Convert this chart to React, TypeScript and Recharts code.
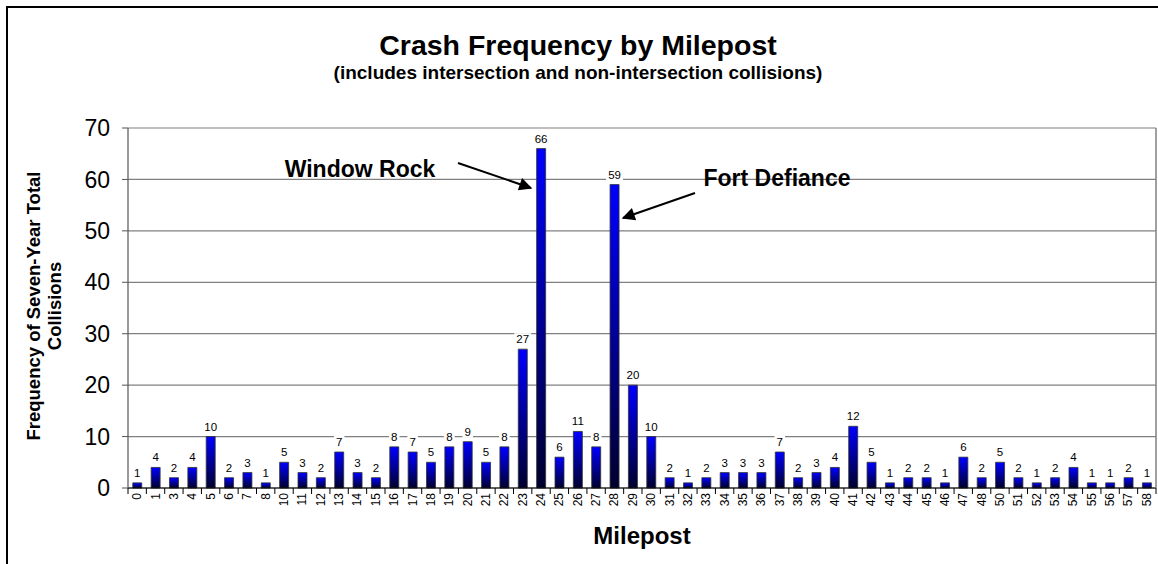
import React from 'react';
import { BarChart, Bar, XAxis, YAxis, CartesianGrid, LabelList } from 'recharts';

const mileposts = ['0','1','3','4','5','6','7','8','10','11','12','13','14','15','16','17','18','19','20','21','22','23','24','25','26','27','28','29','30','31','32','33','34','35','36','37','38','39','40','41','42','43','44','45','46','47','48','50','51','52','53','54','55','56','57','58'];
const collisions = [1,4,2,4,10,2,3,1,5,3,2,7,3,2,8,7,5,8,9,5,8,27,66,6,11,8,59,20,10,2,1,2,3,3,3,7,2,3,4,12,5,1,2,2,1,6,2,5,2,1,2,4,1,1,2,1];
const yTicks = [0,10,20,30,40,50,60,70];

const data = mileposts.map((m, i) => ({ milepost: m, value: collisions[i] }));

const W = 1158;
const H = 564;
const M_TOP = 128;
const M_RIGHT = 2;
const Y_W = 128;
const X_H = 76;
const PLOT_W = W - Y_W - M_RIGHT;
const BAND = PLOT_W / mileposts.length;
const FONT = '"Liberation Sans", Arial, sans-serif';

const XTick = (props: any) => {
  const { x, y, payload, index } = props;
  const ty = y + 5;
  return (
    <g>
      <line x1={x + BAND / 2} y1={y} x2={x + BAND / 2} y2={y + 6} stroke="#000" strokeWidth={1} />
      {index === 0 && <line x1={x - BAND / 2} y1={y} x2={x - BAND / 2} y2={y + 6} stroke="#000" strokeWidth={1} />}
      <text
        x={x}
        y={ty}
        transform={`rotate(-90, ${x}, ${ty})`}
        textAnchor="end"
        dominantBaseline="central"
        fontSize={12}
        fontFamily={FONT}
        fill="#000"
      >
        {payload.value}
      </text>
    </g>
  );
};

const ValueLabel = (props: any) => {
  const { x, y, width, value } = props;
  const cx = x + width / 2;
  const cy = y - 10;
  const tw = String(value).length * 6.5 + 4;
  return (
    <g>
      <rect x={cx - tw / 2} y={cy - 6} width={tw} height={12} fill="#fff" />
      <text x={cx} y={cy} textAnchor="middle" dominantBaseline="central" fontSize={11.5} fontFamily={FONT} fill="#000">
        {value}
      </text>
    </g>
  );
};

export default function App() {
  return (
    <div style={{ position: 'absolute', left: 0, top: 0, width: W, height: H, background: '#fff', overflow: 'hidden' }}>
      <svg width={0} height={0} style={{ position: 'absolute' }}>
        <defs>
          <linearGradient id="barGrad" x1="0" y1="0" x2="0" y2="1">
            <stop offset="0%" stopColor="#0000FF" />
            <stop offset="100%" stopColor="#00002E" />
          </linearGradient>
        </defs>
      </svg>
      <BarChart
        width={W}
        height={H}
        data={data}
        margin={{ top: M_TOP, right: M_RIGHT, left: 0, bottom: 0 }}
        barCategoryGap="26%"
      >
        <CartesianGrid vertical={false} stroke="#808080" strokeWidth={1.2} />
        <XAxis
          dataKey="milepost"
          interval={0}
          height={X_H}
          tickLine={false}
          tickSize={0}
          tickMargin={0}
          tick={<XTick />}
          axisLine={{ stroke: '#000', strokeWidth: 1.2 }}
          label={{ value: 'Milepost', position: 'insideBottom', offset: 20, fontSize: 24, fontWeight: 'bold', fontFamily: FONT, fill: '#000' }}
        />
        <YAxis
          width={Y_W}
          domain={[0, 70]}
          ticks={yTicks}
          interval={0}
          tickSize={6}
          tickMargin={12}
          tickLine={{ stroke: '#555' }}
          axisLine={{ stroke: '#555', strokeWidth: 1.2 }}
          tick={{ fontSize: 23, fontFamily: FONT, fill: '#000' }}
        />
        <Bar dataKey="value" fill="url(#barGrad)" stroke="#333" strokeWidth={0.8} isAnimationActive={false}>
          <LabelList dataKey="value" content={<ValueLabel />} />
        </Bar>
      </BarChart>
      <svg
        width={W}
        height={H}
        style={{ position: 'absolute', left: 0, top: 0, pointerEvents: 'none' }}
        fontFamily={FONT}
      >
        <defs>
          <marker id="arrowHead" viewBox="0 0 10 10" refX="9" refY="5" markerWidth="9" markerHeight="6.5" orient="auto-start-reverse">
            <path d="M0,0 L10,5 L0,10 z" fill="#000" />
          </marker>
        </defs>
        <rect x={7} y={7} width={1160} height={600} fill="none" stroke="#000" strokeWidth={2} />
        <line x1={1156} y1={128} x2={1156} y2={488} stroke="#808080" strokeWidth={1.5} />
        <text x={578} y={55} textAnchor="middle" fontSize={28.5} fontWeight="bold" fill="#000">
          Crash Frequency by Milepost
        </text>
        <text x={578} y={79} textAnchor="middle" fontSize={19} fontWeight="bold" fill="#000">
          (includes intersection and non-intersection collisions)
        </text>
        <text transform="translate(40,306) rotate(-90)" textAnchor="middle" fontSize={18.5} fontWeight="bold" fill="#000">
          <tspan x={0} y={0}>Frequency of Seven-Year Total</tspan>
          <tspan x={0} y={21}>Collisions</tspan>
        </text>
        <text x={360} y={177} textAnchor="middle" fontSize={23} fontWeight="bold" fill="#000">
          Window Rock
        </text>
        <line x1={458} y1={163} x2={531} y2={188} stroke="#000" strokeWidth={2} markerEnd="url(#arrowHead)" />
        <text x={777} y={186} textAnchor="middle" fontSize={23} fontWeight="bold" fill="#000">
          Fort Defiance
        </text>
        <line x1={695} y1={193} x2={623} y2={218} stroke="#000" strokeWidth={2} markerEnd="url(#arrowHead)" />
      </svg>
    </div>
  );
}
